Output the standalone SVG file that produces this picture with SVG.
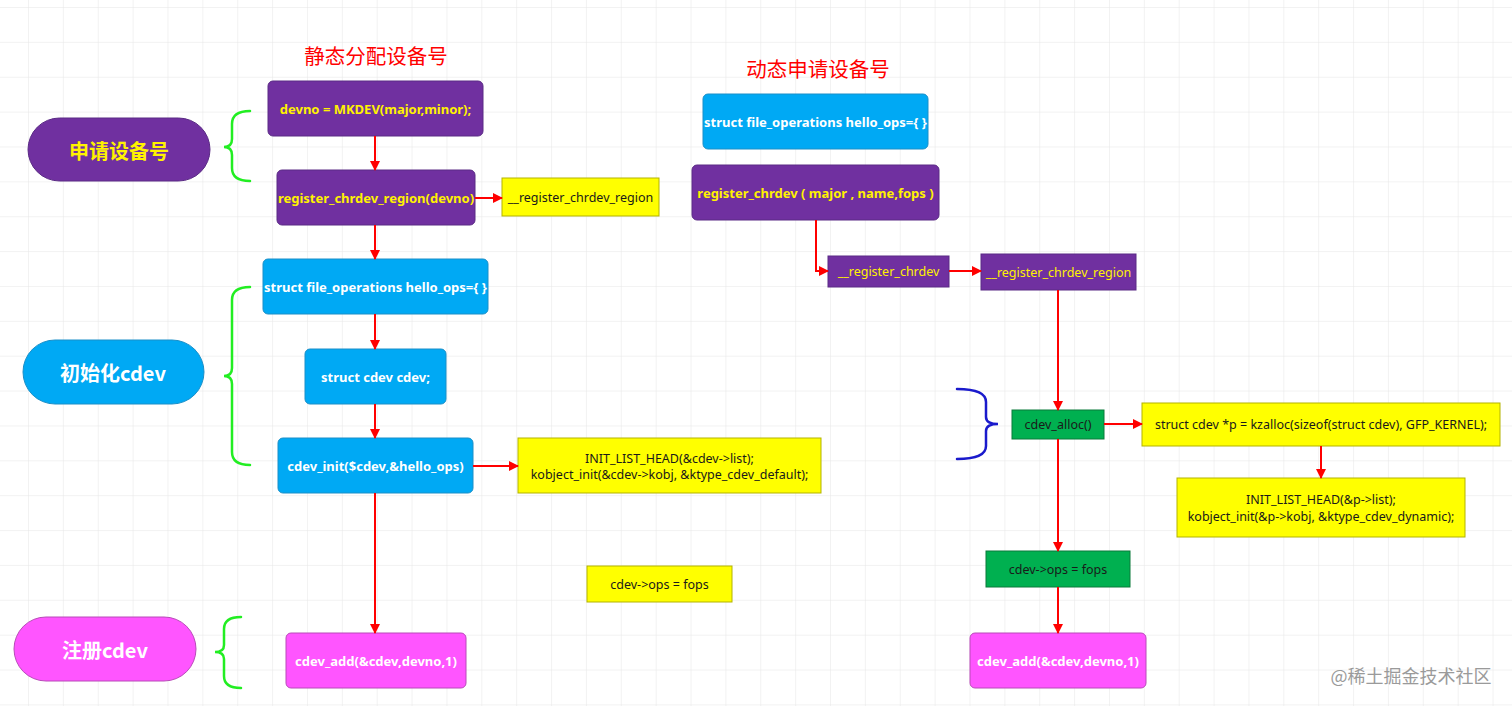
<svg xmlns="http://www.w3.org/2000/svg" width="1512" height="706" viewBox="0 0 1512 706">
<defs>
<pattern id="grid" patternUnits="userSpaceOnUse" x="28" y="7" width="34.87" height="34.87">
<path d="M0 0 H34.87 M0 0 V34.87" fill="none" stroke="#e6e6e6" stroke-width="1"/>
</pattern>
<marker id="ah" markerWidth="10" markerHeight="10" refX="9" refY="5" orient="auto" markerUnits="userSpaceOnUse">
<path d="M0 0 L10 5 L0 10 Z" fill="#ff0000"/>
</marker>
<style>
text{font-family:"Noto Sans","Noto Sans CJK SC",sans-serif;text-anchor:middle;dominant-baseline:central}
.title{font-size:20.5px;fill:#ff0000;font-family:"Noto Sans CJK SC",sans-serif}
.pill{font-size:20px;font-weight:bold;font-family:"Noto Sans CJK SC","Noto Sans",sans-serif}
.b{font-size:13px;font-weight:bold}
.r{font-size:12.5px}
.purple{fill:#7030a0;stroke:#5a2a85;stroke-width:1}
.blue{fill:#00a9f4;stroke:#1a8fc8;stroke-width:1}
.mag{fill:#ff55ff;stroke:#b84bb8;stroke-width:1}
.yel{fill:#ffff00;stroke:#b3b300;stroke-width:1}
.grn{fill:#00b050;stroke:#0a7a3a;stroke-width:1}
.ty{fill:#fff200}
.tw{fill:#ffffff}
.tk{fill:#1a1a1a}
.brace{fill:none;stroke-width:2.5;stroke-linecap:round}
.edge{fill:none;stroke:#ff0000;stroke-width:2;marker-end:url(#ah)}
</style>
</defs>
<rect width="1512" height="706" fill="#ffffff"/>
<rect width="1512" height="706" fill="url(#grid)"/>

<g id="title_static"><text class="title" x="376" y="55">静态分配设备号</text></g>
<g id="title_dynamic"><text class="title" x="818" y="68">动态申请设备号</text></g>

<g id="pill_apply"><rect class="purple" x="28" y="118" width="182" height="63" rx="31.5"/><text class="pill ty" x="119" y="150">申请设备号</text></g>
<g id="pill_init"><rect class="blue" x="23" y="340" width="181" height="64" rx="32"/><text class="pill tw" x="113" y="372">初始化cdev</text></g>
<g id="pill_reg"><rect class="mag" x="14" y="617" width="182" height="64" rx="32"/><text class="pill tw" x="105" y="649">注册cdev</text></g>

<g id="braces">
<path class="brace" stroke="#22ee22" d="M250 111 Q232 111 232 124 L232 139 Q232 147 224 147 Q232 147 232 155 L232 168 Q232 181 250 181"/>
<path class="brace" stroke="#22ee22" d="M250 287 Q232 287 232 300 L232 368 Q232 376 224 376 Q232 376 232 384 L232 452 Q232 465 250 465"/>
<path class="brace" stroke="#22ee22" d="M241 617 Q224 617 224 629 L224 645 Q224 652 215 652 Q224 652 224 659 L224 676 Q224 688 241 688"/>
<path class="brace" stroke="#1a1acc" d="M957 389 Q986 389 986 402 L986 417 Q986 424 998 424 Q986 424 986 431 L986 446 Q986 459 957 459"/>
</g>

<g id="n_mkdev"><rect class="purple" x="268" y="81" width="215" height="55" rx="5"/><text class="b ty" x="375.5" y="109">devno = MKDEV(major,minor);</text></g>
<g id="n_regregion"><rect class="purple" x="277" y="170" width="198" height="55" rx="5"/><text class="b ty" x="376" y="198">register_chrdev_region(devno)</text></g>
<g id="n_regregion_inner"><rect class="yel" x="502" y="178" width="157" height="38"/><text class="r tk" x="580.5" y="197">__register_chrdev_region</text></g>
<g id="n_fops_l"><rect class="blue" x="263" y="259" width="225" height="55" rx="5"/><text class="b tw" x="375.5" y="287">struct file_operations hello_ops={ }</text></g>
<g id="n_cdev"><rect class="blue" x="305" y="349" width="141" height="55" rx="5"/><text class="b tw" x="375.5" y="377">struct cdev cdev;</text></g>
<g id="n_cdevinit"><rect class="blue" x="278" y="438" width="195" height="55" rx="5"/><text class="b tw" x="375.5" y="466">cdev_init($cdev,&amp;hello_ops)</text></g>
<g id="n_initlist_l"><rect class="yel" x="518" y="438" width="303" height="55"/><text class="r tk" x="669.5" y="458">INIT_LIST_HEAD(&amp;cdev-&gt;list);</text><text class="r tk" x="669.5" y="474">kobject_init(&amp;cdev-&gt;kobj, &amp;ktype_cdev_default);</text></g>
<g id="n_ops_l"><rect class="yel" x="587" y="566" width="145" height="36"/><text class="r tk" x="659.5" y="584">cdev-&gt;ops = fops</text></g>
<g id="n_add_l"><rect class="mag" x="286" y="633" width="180" height="55" rx="5"/><text class="b tw" x="376" y="661">cdev_add(&amp;cdev,devno,1)</text></g>

<g id="n_fops_r"><rect class="blue" x="703" y="94" width="225" height="55" rx="5"/><text class="b tw" x="815.5" y="122">struct file_operations hello_ops={ }</text></g>
<g id="n_regchr"><rect class="purple" x="692" y="165" width="247" height="55" rx="5"/><text class="b ty" x="815.5" y="193">register_chrdev ( major , name,fops )</text></g>
<g id="n_regchr_inner"><rect class="purple" x="828" y="256" width="121" height="31"/><text class="r ty" x="888.5" y="271.5">__register_chrdev</text></g>
<g id="n_regregion_r"><rect class="purple" x="981" y="254" width="155" height="36"/><text class="r ty" x="1058.5" y="272">__register_chrdev_region</text></g>
<g id="n_alloc"><rect class="grn" x="1012" y="410" width="92" height="29"/><text class="r tk" x="1058" y="424.5">cdev_alloc()</text></g>
<g id="n_kzalloc"><rect class="yel" x="1142" y="403" width="358" height="43"/><text class="r tk" x="1321" y="424.5">struct cdev *p = kzalloc(sizeof(struct cdev), GFP_KERNEL);</text></g>
<g id="n_initlist_r"><rect class="yel" x="1177" y="478" width="288" height="59"/><text class="r tk" x="1321" y="499">INIT_LIST_HEAD(&amp;p-&gt;list);</text><text class="r tk" x="1321" y="516">kobject_init(&amp;p-&gt;kobj, &amp;ktype_cdev_dynamic);</text></g>
<g id="n_ops_r"><rect class="grn" x="986" y="551" width="144" height="36"/><text class="r tk" x="1058" y="569">cdev-&gt;ops = fops</text></g>
<g id="n_add_r"><rect class="mag" x="970" y="633" width="176" height="55" rx="5"/><text class="b tw" x="1058" y="661">cdev_add(&amp;cdev,devno,1)</text></g>

<g id="connectors">
<path class="edge" d="M375 136 V170"/>
<path class="edge" d="M475 198 H502"/>
<path class="edge" d="M375 225 V259"/>
<path class="edge" d="M375 314 V349"/>
<path class="edge" d="M375 404 V438"/>
<path class="edge" d="M473 466 H518"/>
<path class="edge" d="M375 493 V633"/>
<path class="edge" d="M816 220 V271 H828"/>
<path class="edge" d="M949 271 H981"/>
<path class="edge" d="M1058 290 V410"/>
<path class="edge" d="M1104 424 H1142"/>
<path class="edge" d="M1321 446 V478"/>
<path class="edge" d="M1058 439 V551"/>
<path class="edge" d="M1058 587 V633"/>
</g>

<g id="watermark"><text x="1411" y="675" style="font-size:18px;fill:#9a9a9a;font-family:'Noto Sans CJK SC',sans-serif">@稀土掘金技术社区</text></g>
</svg>
